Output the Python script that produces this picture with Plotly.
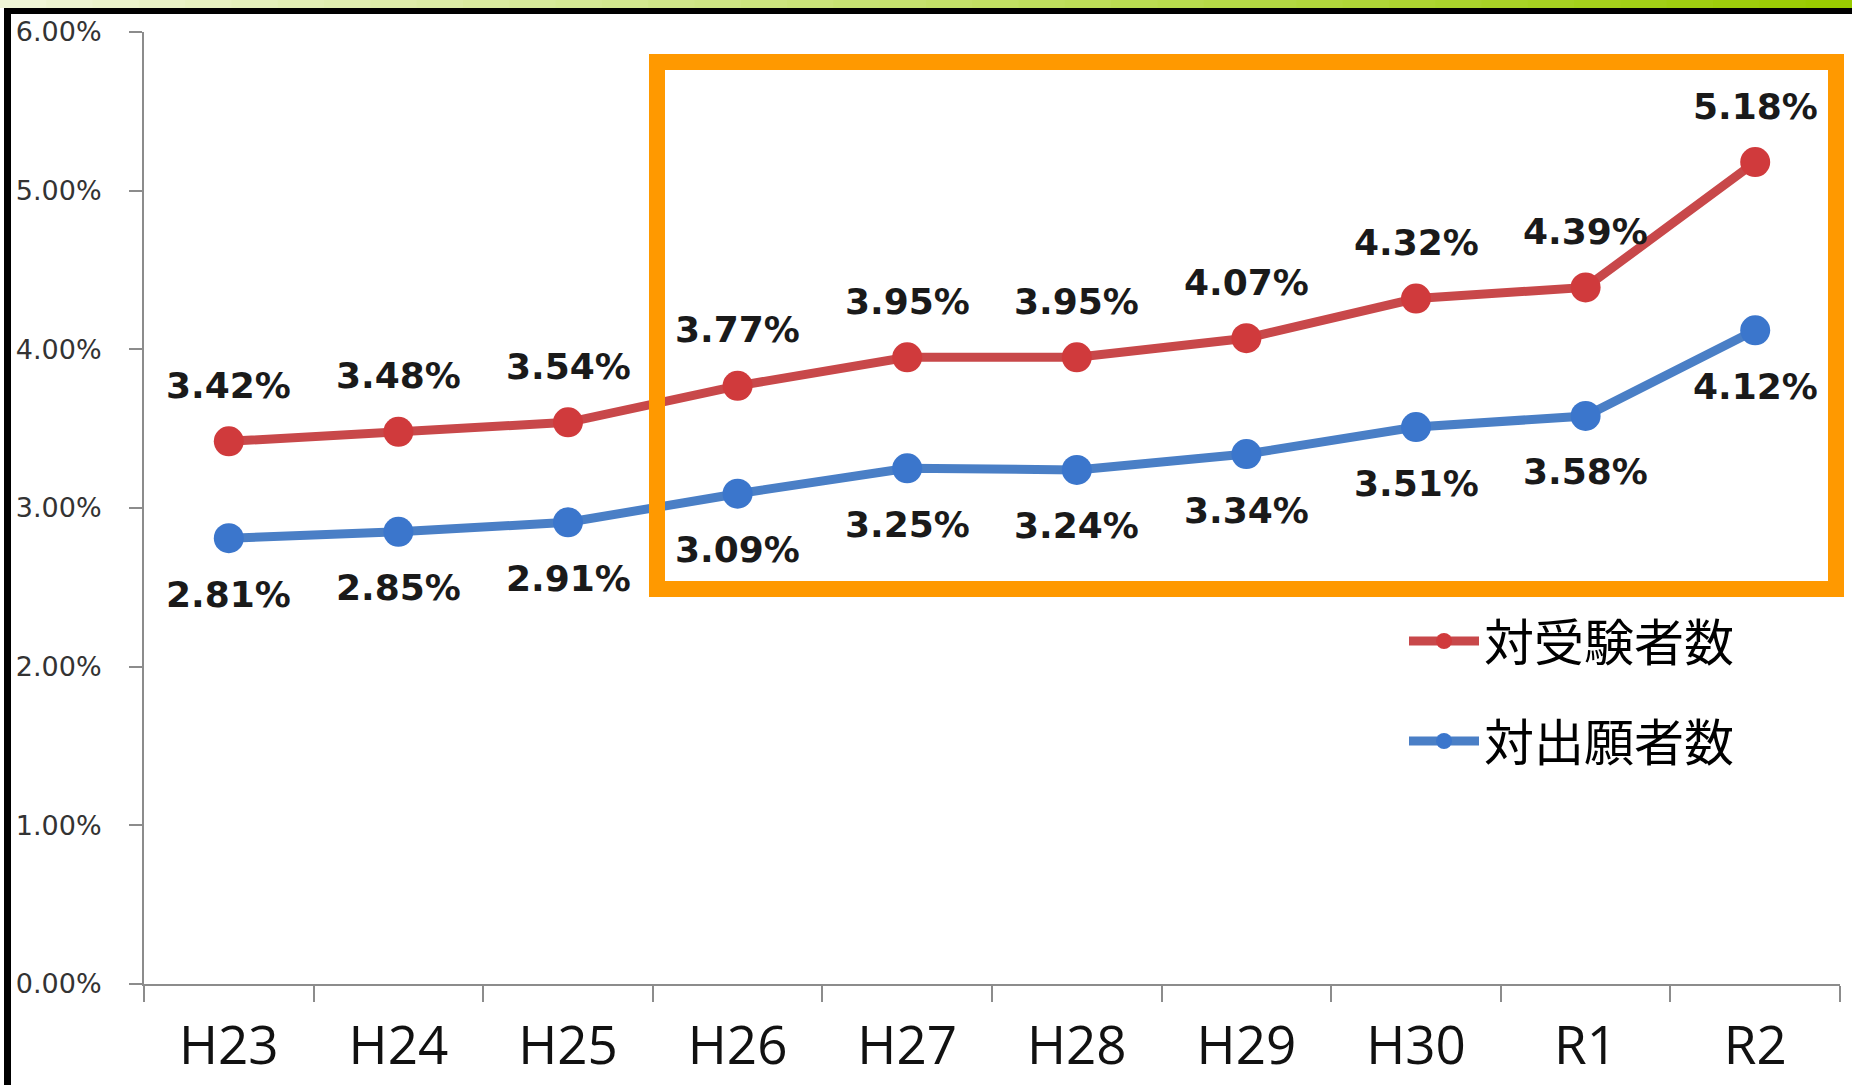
import plotly.graph_objects as go

# data
years = ["H23", "H24", "H25", "H26", "H27", "H28", "H29", "H30", "R1", "R2"]
vs_examinees = [3.42, 3.48, 3.54, 3.77, 3.95, 3.95, 4.07, 4.32, 4.39, 5.18]
vs_applicants = [2.81, 2.85, 2.91, 3.09, 3.25, 3.24, 3.34, 3.51, 3.58, 4.12]
series_names = ["対受験者数", "対出願者数"]
y_ticks = [0, 1, 2, 3, 4, 5, 6]

W, H = 1852, 1085
L, R, T, B = 144, 12, 32, 101
PW, PH = W - L - R, H - T - B


def px_x(x):
    # pixel -> paper x
    return (x - L) / PW


def px_y(y):
    # pixel -> paper y
    return (H - B - y) / PH


fig = go.Figure()

fig.add_trace(go.Scatter(
    x=years, y=vs_examinees, name=series_names[0], mode="lines+markers",
    line=dict(color="#C8484A", width=9),
    marker=dict(color="#D03A3C", size=30),
    legend="legend",
))
fig.add_trace(go.Scatter(
    x=years, y=vs_applicants, name=series_names[1], mode="lines+markers",
    line=dict(color="#4A7FC6", width=9),
    marker=dict(color="#3B76CC", size=30),
    legend="legend2",
))

# value labels: red above, blue below
label_font = dict(family="DejaVu Sans", size=36, color="#1a1a1a")
for x, v in zip(years, vs_examinees):
    fig.add_annotation(x=x, y=v, text=f"<b>{v:.2f}%</b>", showarrow=False,
                       yshift=56, font=label_font)
for x, v in zip(years, vs_applicants):
    fig.add_annotation(x=x, y=v, text=f"<b>{v:.2f}%</b>", showarrow=False,
                       yshift=-56, font=label_font)

shapes = []
# green gradient strip on top
n = 40
for i in range(n):
    t = i / (n - 1)
    r = int(240 + (153 - 240) * t)
    g = int(246 + (204 - 246) * t)
    b = int(215 + (0 - 215) * t)
    shapes.append(dict(type="rect", xref="paper", yref="paper",
                       x0=px_x(i * W / n), x1=px_x((i + 1) * W / n + 1),
                       y0=px_y(8), y1=px_y(0),
                       fillcolor=f"rgb({r},{g},{b})", line=dict(width=0), layer="below"))
# black frame (top + left)
shapes.append(dict(type="rect", xref="paper", yref="paper",
                   x0=px_x(5), x1=px_x(W), y0=px_y(14), y1=px_y(8),
                   fillcolor="black", line=dict(width=0)))
shapes.append(dict(type="rect", xref="paper", yref="paper",
                   x0=px_x(4), x1=px_x(11), y0=px_y(H), y1=px_y(8),
                   fillcolor="black", line=dict(width=0)))
# orange highlight box
shapes.append(dict(type="rect", xref="paper", yref="paper",
                   x0=px_x(657), x1=px_x(1836), y0=px_y(589), y1=px_y(62),
                   line=dict(color="#FF9900", width=16), fillcolor="rgba(0,0,0,0)"))

legend_common = dict(
    font=dict(family="Noto Sans CJK JP", size=50, color="black"),
    bgcolor="rgba(0,0,0,0)", xanchor="left", yanchor="middle",
    itemwidth=70, itemsizing="trace",
)

fig.update_layout(
    width=W, height=H,
    margin=dict(l=L, r=R, t=T, b=B),
    plot_bgcolor="white", paper_bgcolor="white",
    shapes=shapes,
    showlegend=True,
    legend=dict(x=px_x(1404), y=px_y(641), **legend_common),
    legend2=dict(x=px_x(1404), y=px_y(741), **legend_common),
    xaxis=dict(
        type="category", range=[-0.5, 9.5], automargin=False,
        showline=True, linecolor="#8c8c8c", linewidth=2,
        ticks="outside", tickson="boundaries", ticklen=16, tickcolor="#8c8c8c", tickwidth=2,
        tickfont=dict(family="Open Sans", size=53, color="#111111"),
        showgrid=False, zeroline=False, ticklabelstandoff=14,
    ),
    yaxis=dict(
        range=[0, 6], tickvals=y_ticks, ticktext=[f"{v:.2f}%" for v in y_ticks],
        automargin=False,
        showline=True, linecolor="#8c8c8c", linewidth=2,
        ticks="outside", ticklen=13, tickcolor="#8c8c8c", tickwidth=2,
        tickfont=dict(family="DejaVu Sans", size=27, color="#333333"),
        showgrid=False, zeroline=False, ticklabelstandoff=22,
    ),
)

# drop the browser's default body margin so the figure sits at (0, 0)
fig.write_html("out.html", config={"displayModeBar": False},
               post_script="document.body.style.margin='0';document.body.style.overflow='hidden';")
